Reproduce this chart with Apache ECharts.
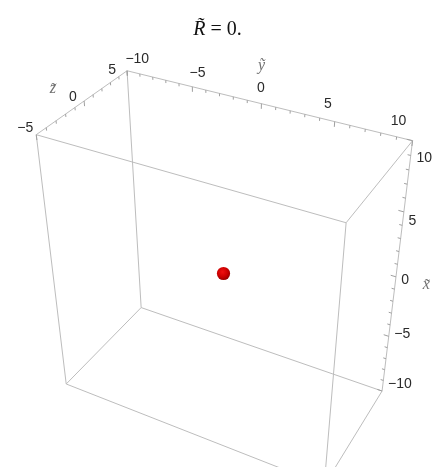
<!DOCTYPE html>
<html>
<head>
<meta charset="utf-8">
<script src="https://cdn.jsdelivr.net/npm/echarts@6/dist/echarts.min.js"></script>
<style>
  html, body { margin: 0; padding: 0; background: #fff; }
  #main { width: 435px; height: 467px; }
</style>
</head>
<body>
<div id="main"></div>
<script>
// ---- Plot text ----
const titleText = '{it|R\u0303} = 0.';
const axisNames = { x: 'x\u0303', y: 'y\u0303', z: 'z\u0303' };

// ---- Plot ranges of the three axes ----
const xRange = [-10, 10];
const yRange = [-10, 10];
const zRange = [-5, 5];

// ---- Labelled (major) ticks and minor tick step ----
const xTicks = [-10, -5, 0, 5, 10];
const yTicks = [-10, -5, 0, 5, 10];
const zTicks = [-5, 0, 5];
const minorStep = 1;

// ---- Sphere centres and radius (data units) ----
const sphereCenters = [[0, 0, 0]];
const sphereRadius = 0.43;

// ---- Camera (box is scaled so its longest side is 1) ----
const viewPoint = [2, 1.3, -2.4];
const viewVertical = [1, 0, 0];
const W = 435, H = 467;
const zoom = 1040;              // pixels per unit of the projection plane
const origin = [223.5, 273.5];  // canvas position of the box centre

const dot = (a, b) => a[0] * b[0] + a[1] * b[1] + a[2] * b[2];
const normalize = a => { const l = Math.hypot(a[0], a[1], a[2]); return a.map(v => v / l); };
const cross = (a, b) => [a[1] * b[2] - a[2] * b[1], a[2] * b[0] - a[0] * b[2], a[0] * b[1] - a[1] * b[0]];

const ranges = [xRange, yRange, zRange];
const mids = ranges.map(r => (r[0] + r[1]) / 2);
const longest = Math.max(...ranges.map(r => r[1] - r[0]));
const toBox = p => p.map((v, i) => (v - mids[i]) / longest);

const camDist = Math.hypot(...viewPoint);
const nVec = viewPoint.map(v => v / camDist);
const vn = dot(viewVertical, nVec);
const uVec = normalize(viewVertical.map((v, i) => v - vn * nVec[i]));
const rVec = cross(uVec, nVec);

function projectBox(q) {
  const d = camDist - dot(q, nVec);
  return [dot(q, rVec) / d, dot(q, uVec) / d];
}
function project(p, off) {
  let q = toBox(p);
  if (off) q = q.map((v, i) => v + off[i]);
  return projectBox(q);
}
function depthOf(p) { return camDist - dot(toBox(p), nVec); }

// ---- Box edges ----
const corners = [];
for (const x of xRange) for (const y of yRange) for (const z of zRange) corners.push([x, y, z]);
const edgeData = [];
for (let i = 0; i < corners.length; i++) {
  for (let j = i + 1; j < corners.length; j++) {
    let diff = 0;
    for (let k = 0; k < 3; k++) if (corners[i][k] !== corners[j][k]) diff++;
    if (diff === 1) edgeData.push([...corners[i], ...corners[j]]);
  }
}

// ---- Axis edges, tick directions, label placement ----
const axes = [
  { key: 'x', dim: 0, ticks: xTicks, range: xRange,
    at: v => [v, yRange[1], zRange[1]], tickDir: [0, -1, 0],
    labelOff: [-0.216, -0.064, 0.279], align: 'left',
    nameOff: [-0.2016, 0.0309, 0.2718] },
  { key: 'y', dim: 1, ticks: yTicks, range: yRange,
    at: v => [xRange[1], v, zRange[1]], tickDir: [-1, 0, 0],
    labelOff: [-0.095, -0.136, 0.270], align: 'center',
    nameOff: [-0.0337, -0.1557, 0.3105] },
  { key: 'z', dim: 2, ticks: zTicks, range: zRange,
    at: v => [xRange[1], yRange[0], v], tickDir: [-1, 0, 0],
    labelOff: [-0.148, -0.215, 0.246], align: 'right',
    nameOff: [-0.1041, -0.2706, 0.1897] }
];
const majorLen = 0.018, minorLen = 0.010;

const tickData = [];
axes.forEach((ax, ai) => {
  for (let v = ax.range[0]; v <= ax.range[1] + 1e-9; v += minorStep) {
    const isMajor = ax.ticks.indexOf(v) >= 0 ? 1 : 0;
    tickData.push([...ax.at(v), ai, isMajor]);
  }
});

const labelData = [];
const labelTexts = [];
axes.forEach((ax, ai) => {
  ax.ticks.forEach(v => {
    labelData.push([...ax.at(v), ai]);
    labelTexts.push(v < 0 ? '\u2212' + Math.abs(v) : String(v));
  });
});

const nameData = axes.map((ax, ai) => [...ax.at((ax.range[0] + ax.range[1]) / 2), ai]);

const edgeColor = '#bdbdbd';
const tickColor = '#a0a0a0';

const chart = echarts.init(document.getElementById('main'), null, { renderer: 'canvas' });
chart.setOption({
  animation: false,
  backgroundColor: '#ffffff',
  title: {
    text: titleText,
    left: 'center',
    top: 15,
    textStyle: {
      fontFamily: 'Liberation Serif', fontSize: 20, fontWeight: 'normal', color: '#111',
      rich: { it: { fontFamily: 'Liberation Serif', fontSize: 20, fontStyle: 'italic', color: '#111' } }
    }
  },
  grid: { left: 0, right: 0, top: 0, bottom: 0 },
  xAxis: { type: 'value', min: -origin[0] / zoom, max: (W - origin[0]) / zoom, show: false },
  yAxis: { type: 'value', min: -(H - origin[1]) / zoom, max: origin[1] / zoom, show: false },
  series: [
    {
      type: 'custom', name: 'box', silent: true, data: edgeData,
      renderItem: (params, api) => {
        const a = api.coord(project([api.value(0), api.value(1), api.value(2)]));
        const b = api.coord(project([api.value(3), api.value(4), api.value(5)]));
        return { type: 'line', shape: { x1: a[0], y1: a[1], x2: b[0], y2: b[1] },
                 style: { stroke: edgeColor, lineWidth: 1 } };
      }
    },
    {
      type: 'custom', name: 'ticks', silent: true, data: tickData,
      renderItem: (params, api) => {
        const p = [api.value(0), api.value(1), api.value(2)];
        const ax = axes[api.value(3)];
        const len = api.value(4) ? majorLen : minorLen;
        const a = api.coord(project(p));
        const b = api.coord(project(p, ax.tickDir.map(v => v * len)));
        return { type: 'line', shape: { x1: a[0], y1: a[1], x2: b[0], y2: b[1] },
                 style: { stroke: tickColor, lineWidth: 1 } };
      }
    },
    {
      type: 'custom', name: 'tickLabels', silent: true, data: labelData,
      renderItem: (params, api) => {
        const p = [api.value(0), api.value(1), api.value(2)];
        const ax = axes[api.value(3)];
        const c = api.coord(project(p, ax.labelOff));
        return { type: 'text', x: c[0], y: c[1],
                 style: { text: labelTexts[params.dataIndex], fill: '#2a2a2a',
                          font: '14px "Liberation Sans", Arial, sans-serif',
                          align: ax.align, verticalAlign: 'middle' } };
      }
    },
    {
      type: 'custom', name: 'axisNames', silent: true, data: nameData,
      renderItem: (params, api) => {
        const p = [api.value(0), api.value(1), api.value(2)];
        const ax = axes[api.value(3)];
        const c = api.coord(project(p, ax.nameOff));
        return { type: 'text', x: c[0], y: c[1],
                 style: { text: axisNames[ax.key], fill: '#707070',
                          font: 'italic 16px "Liberation Serif", "DejaVu Serif", serif',
                          align: 'center', verticalAlign: 'middle' } };
      }
    },
    {
      type: 'custom', name: 'sphere', silent: true, data: sphereCenters,
      renderItem: (params, api) => {
        const p = [api.value(0), api.value(1), api.value(2)];
        const c = api.coord(project(p));
        const rad = api.size([(sphereRadius / longest) / depthOf(p), 0])[0];
        return { type: 'circle', shape: { cx: c[0], cy: c[1], r: rad },
                 style: { fill: { type: 'radial', x: 0.42, y: 0.38, r: 0.7,
                   colorStops: [ { offset: 0, color: '#f01010' },
                                 { offset: 0.55, color: '#cc0000' },
                                 { offset: 1, color: '#850000' } ] } } };
      }
    }
  ]
});
</script>
</body>
</html>
